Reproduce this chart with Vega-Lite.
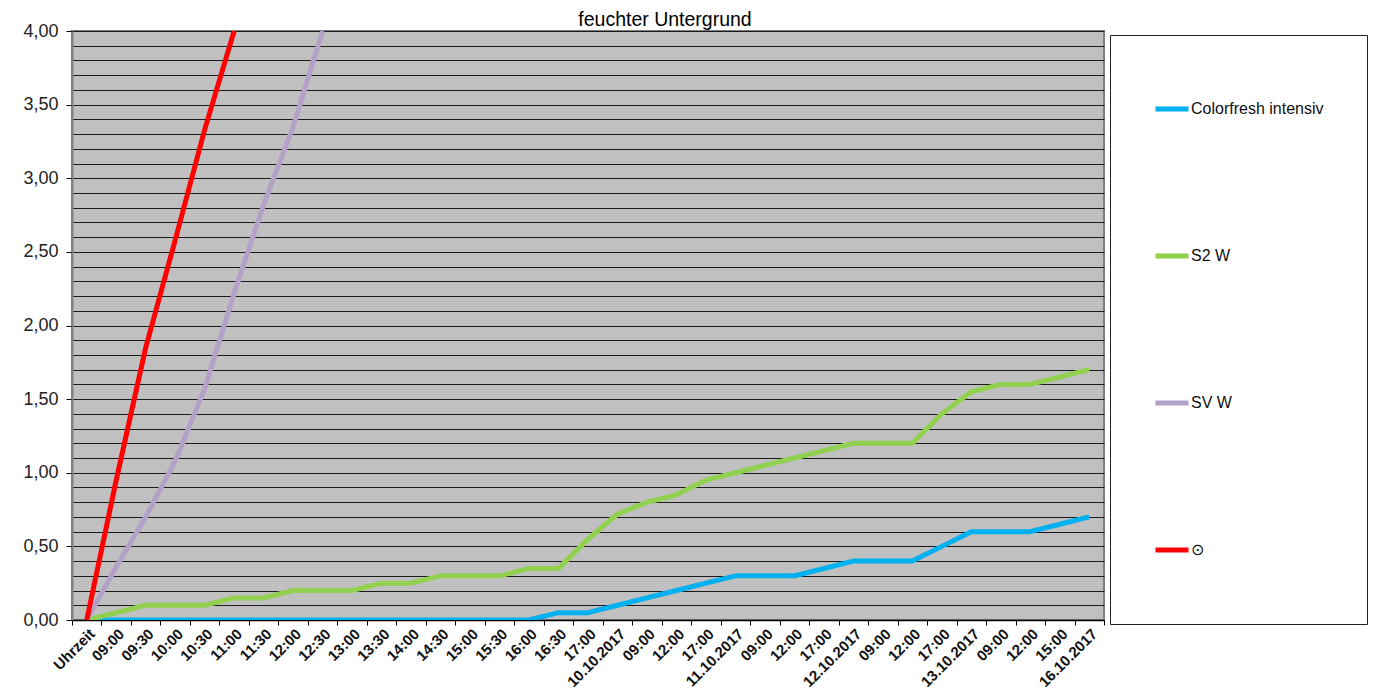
{
  "$schema": "https://vega.github.io/schema/vega-lite/v6.json",
  "autosize": {"type": "none"},
  "width": 1032,
  "height": 589,
  "padding": {"left": 72, "top": 31, "right": 274, "bottom": 77},
  "background": "white",
  "title": {"text": "feuchter Untergrund", "font": "Liberation Sans", "fontSize": 19.5, "fontWeight": "normal", "color": "black", "anchor": "middle", "frame": "group", "dx": 77, "baseline": "alphabetic", "offset": 0, "dy": 23},
  "config": {"view": {"fill": "#C0C0C0", "stroke": "#808080", "strokeWidth": 2}, "font": "Liberation Sans"},
  "data": {"values": [
    {"i": 0, "s": "Colorfresh intensiv", "v": 0},
    {"i": 1, "s": "Colorfresh intensiv", "v": 0},
    {"i": 2, "s": "Colorfresh intensiv", "v": 0},
    {"i": 3, "s": "Colorfresh intensiv", "v": 0},
    {"i": 4, "s": "Colorfresh intensiv", "v": 0},
    {"i": 5, "s": "Colorfresh intensiv", "v": 0},
    {"i": 6, "s": "Colorfresh intensiv", "v": 0},
    {"i": 7, "s": "Colorfresh intensiv", "v": 0},
    {"i": 8, "s": "Colorfresh intensiv", "v": 0},
    {"i": 9, "s": "Colorfresh intensiv", "v": 0},
    {"i": 10, "s": "Colorfresh intensiv", "v": 0},
    {"i": 11, "s": "Colorfresh intensiv", "v": 0},
    {"i": 12, "s": "Colorfresh intensiv", "v": 0},
    {"i": 13, "s": "Colorfresh intensiv", "v": 0},
    {"i": 14, "s": "Colorfresh intensiv", "v": 0},
    {"i": 15, "s": "Colorfresh intensiv", "v": 0},
    {"i": 16, "s": "Colorfresh intensiv", "v": 0.05},
    {"i": 17, "s": "Colorfresh intensiv", "v": 0.05},
    {"i": 18, "s": "Colorfresh intensiv", "v": 0.1},
    {"i": 19, "s": "Colorfresh intensiv", "v": 0.15},
    {"i": 20, "s": "Colorfresh intensiv", "v": 0.2},
    {"i": 21, "s": "Colorfresh intensiv", "v": 0.25},
    {"i": 22, "s": "Colorfresh intensiv", "v": 0.3},
    {"i": 23, "s": "Colorfresh intensiv", "v": 0.3},
    {"i": 24, "s": "Colorfresh intensiv", "v": 0.3},
    {"i": 25, "s": "Colorfresh intensiv", "v": 0.35},
    {"i": 26, "s": "Colorfresh intensiv", "v": 0.4},
    {"i": 27, "s": "Colorfresh intensiv", "v": 0.4},
    {"i": 28, "s": "Colorfresh intensiv", "v": 0.4},
    {"i": 29, "s": "Colorfresh intensiv", "v": 0.5},
    {"i": 30, "s": "Colorfresh intensiv", "v": 0.6},
    {"i": 31, "s": "Colorfresh intensiv", "v": 0.6},
    {"i": 32, "s": "Colorfresh intensiv", "v": 0.6},
    {"i": 33, "s": "Colorfresh intensiv", "v": 0.65},
    {"i": 34, "s": "Colorfresh intensiv", "v": 0.7},
    {"i": 0, "s": "S2 W", "v": 0},
    {"i": 1, "s": "S2 W", "v": 0.05},
    {"i": 2, "s": "S2 W", "v": 0.1},
    {"i": 3, "s": "S2 W", "v": 0.1},
    {"i": 4, "s": "S2 W", "v": 0.1},
    {"i": 5, "s": "S2 W", "v": 0.15},
    {"i": 6, "s": "S2 W", "v": 0.15},
    {"i": 7, "s": "S2 W", "v": 0.2},
    {"i": 8, "s": "S2 W", "v": 0.2},
    {"i": 9, "s": "S2 W", "v": 0.2},
    {"i": 10, "s": "S2 W", "v": 0.25},
    {"i": 11, "s": "S2 W", "v": 0.25},
    {"i": 12, "s": "S2 W", "v": 0.3},
    {"i": 13, "s": "S2 W", "v": 0.3},
    {"i": 14, "s": "S2 W", "v": 0.3},
    {"i": 15, "s": "S2 W", "v": 0.35},
    {"i": 16, "s": "S2 W", "v": 0.35},
    {"i": 17, "s": "S2 W", "v": 0.55},
    {"i": 18, "s": "S2 W", "v": 0.72},
    {"i": 19, "s": "S2 W", "v": 0.8},
    {"i": 20, "s": "S2 W", "v": 0.85},
    {"i": 21, "s": "S2 W", "v": 0.95},
    {"i": 22, "s": "S2 W", "v": 1.0},
    {"i": 23, "s": "S2 W", "v": 1.05},
    {"i": 24, "s": "S2 W", "v": 1.1},
    {"i": 25, "s": "S2 W", "v": 1.15},
    {"i": 26, "s": "S2 W", "v": 1.2},
    {"i": 27, "s": "S2 W", "v": 1.2},
    {"i": 28, "s": "S2 W", "v": 1.2},
    {"i": 29, "s": "S2 W", "v": 1.4},
    {"i": 30, "s": "S2 W", "v": 1.55},
    {"i": 31, "s": "S2 W", "v": 1.6},
    {"i": 32, "s": "S2 W", "v": 1.6},
    {"i": 33, "s": "S2 W", "v": 1.65},
    {"i": 34, "s": "S2 W", "v": 1.7},
    {"i": 0, "s": "SV W", "v": 0},
    {"i": 1, "s": "SV W", "v": 0.36},
    {"i": 2, "s": "SV W", "v": 0.7},
    {"i": 3, "s": "SV W", "v": 1.08},
    {"i": 4, "s": "SV W", "v": 1.57},
    {"i": 5, "s": "SV W", "v": 2.22},
    {"i": 6, "s": "SV W", "v": 2.82},
    {"i": 7, "s": "SV W", "v": 3.35},
    {"i": 8, "s": "SV W", "v": 4.0},
    {"i": 0, "s": "⊙", "v": 0},
    {"i": 1, "s": "⊙", "v": 0.95},
    {"i": 2, "s": "⊙", "v": 1.85},
    {"i": 3, "s": "⊙", "v": 2.58},
    {"i": 4, "s": "⊙", "v": 3.33},
    {"i": 5, "s": "⊙", "v": 4.0}
  ]},
  "mark": {"type": "line", "strokeWidth": 5, "clip": true, "strokeJoin": "round"},
  "encoding": {
    "x": {
      "field": "i", "type": "ordinal",
      "scale": {"type": "band", "paddingInner": 0, "paddingOuter": 0},
      "axis": {
        "title": null, "tickBand": "extent", "labelAngle": -45,
        "labelExpr": "['Uhrzeit','09:00','09:30','10:00','10:30','11:00','11:30','12:00','12:30','13:00','13:30','14:00','14:30','15:00','15:30','16:00','16:30','17:00','10.10.2017','09:00','12:00','17:00','11.10.2017','09:00','12:00','17:00','12.10.2017','09:00','12:00','17:00','13.10.2017','09:00','12:00','15:00','16.10.2017'][datum.value]",
        "labelFont": "Liberation Sans", "labelFontSize": 15, "labelFontWeight": "bold", "labelColor": "#111",
        "tickColor": "black", "tickSize": 5, "labelPadding": 1,
        "domainColor": "black", "domainWidth": 1.5, "grid": false
      }
    },
    "y": {
      "field": "v", "type": "quantitative",
      "scale": {"domain": [0, 4], "nice": false},
      "axis": {
        "title": null,
        "values": [0, 0.1, 0.2, 0.3, 0.4, 0.5, 0.6, 0.7, 0.8, 0.9, 1, 1.1, 1.2, 1.3, 1.4, 1.5, 1.6, 1.7, 1.8, 1.9, 2, 2.1, 2.2, 2.3, 2.4, 2.5, 2.6, 2.7, 2.8, 2.9, 3, 3.1, 3.2, 3.3, 3.4, 3.5, 3.6, 3.7, 3.8, 3.9, 4],
        "grid": true, "gridColor": "#1a1a1a", "gridWidth": 1,
        "tickSize": 6, "tickColor": "black",
        "tickOpacity": {"condition": {"test": "abs(datum.value*2 - round(datum.value*2)) < 0.001", "value": 1}, "value": 0},
        "labelExpr": "abs(datum.value*2 - round(datum.value*2)) < 0.001 ? replace(format(datum.value, '.2f'), '.', ',') : ''",
        "labelFont": "Liberation Sans", "labelFontSize": 18, "labelColor": "#222", "labelPadding": 8,
        "labelOverlap": false, "labelFlush": false, "labelBound": false,
        "domainColor": "#808080", "domainWidth": 2
      }
    },
    "color": {
      "field": "s", "type": "nominal",
      "scale": {"domain": ["Colorfresh intensiv", "S2 W", "SV W", "⊙"], "range": ["#00B0F0", "#92D050", "#B3A2C7", "#FF0000"]},
      "legend": {
        "title": null, "orient": "none", "legendX": 1038, "legendY": 4,
        "padding": 43, "clipHeight": 62, "rowPadding": 85,
        "symbolType": "stroke", "symbolSize": 1089, "symbolStrokeWidth": 5,
        "labelFont": "Liberation Sans", "labelFontSize": 16, "labelColor": "#111", "labelOffset": 0, "labelLimit": 300,
        "strokeColor": "#222", "fillColor": "white"
      }
    }
  }
}
